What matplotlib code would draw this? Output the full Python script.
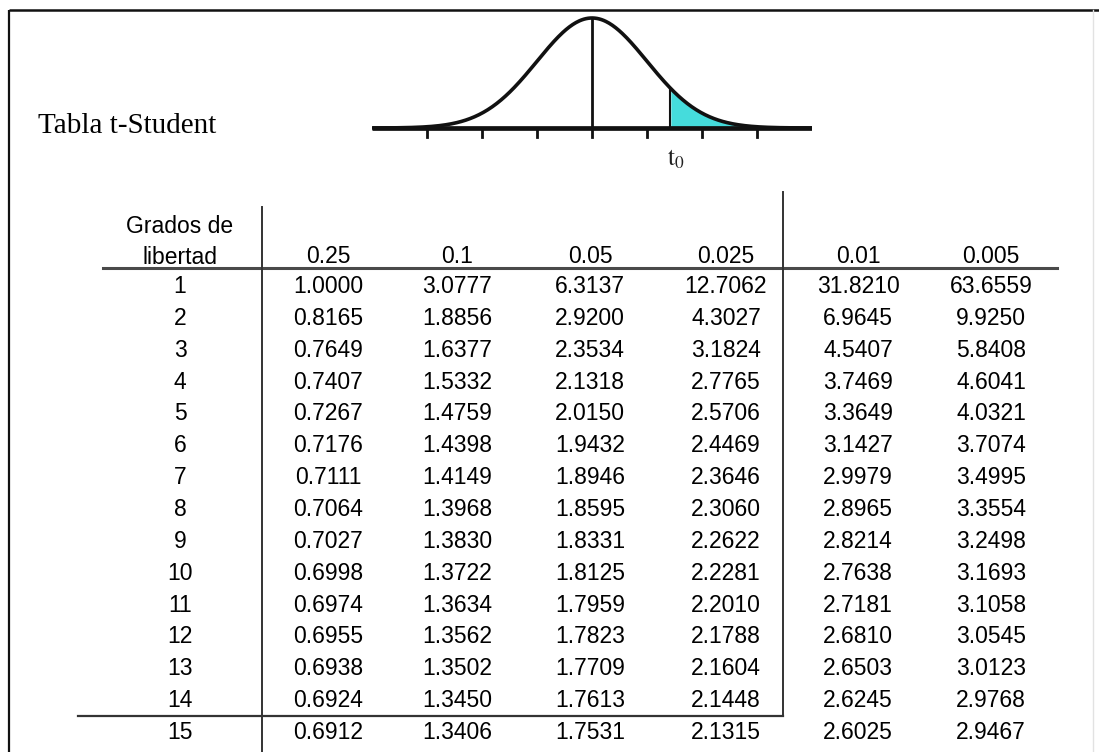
import numpy as np
import matplotlib
matplotlib.use("Agg")
from matplotlib import pyplot as plt

plt.rcParams["mathtext.fontset"] = "stix"

# tabla t-Student: grados de libertad y valores criticos por alfa
grados = list(range(1, 16))
alfas = ["0.25", "0.1", "0.05", "0.025", "0.01", "0.005"]
t_025 = [1.0000, 0.8165, 0.7649, 0.7407, 0.7267, 0.7176, 0.7111, 0.7064,
         0.7027, 0.6998, 0.6974, 0.6955, 0.6938, 0.6924, 0.6912]
t_010 = [3.0777, 1.8856, 1.6377, 1.5332, 1.4759, 1.4398, 1.4149, 1.3968,
         1.3830, 1.3722, 1.3634, 1.3562, 1.3502, 1.3450, 1.3406]
t_005 = [6.3137, 2.9200, 2.3534, 2.1318, 2.0150, 1.9432, 1.8946, 1.8595,
         1.8331, 1.8125, 1.7959, 1.7823, 1.7709, 1.7613, 1.7531]
t_0025 = [12.7062, 4.3027, 3.1824, 2.7765, 2.5706, 2.4469, 2.3646, 2.3060,
          2.2622, 2.2281, 2.2010, 2.1788, 2.1604, 2.1448, 2.1315]
t_001 = [31.8210, 6.9645, 4.5407, 3.7469, 3.3649, 3.1427, 2.9979, 2.8965,
         2.8214, 2.7638, 2.7181, 2.6810, 2.6503, 2.6245, 2.6025]
t_0005 = [63.6559, 9.9250, 5.8408, 4.6041, 4.0321, 3.7074, 3.4995, 3.3554,
          3.2498, 3.1693, 3.1058, 3.0545, 3.0123, 2.9768, 2.9467]
columnas = [t_025, t_010, t_005, t_0025, t_001, t_0005]

# dibujo de la curva
curva_ticks = [-3, -2, -1, 0, 1, 2, 3]
t0 = 1.42

W, H = 1099, 752
fig = plt.figure(figsize=(W / 100, H / 100), dpi=100)
fig.patch.set_facecolor("white")

ax = fig.add_axes([0, 0, 1, 1])
ax.set_xlim(0, W)
ax.set_ylim(H, 0)
ax.axis("off")

# marco
ax.plot([9, W], [10, 10], color="#111", lw=1.8, solid_capstyle="butt")
ax.plot([9, 9], [10, H], color="#111", lw=1.6, solid_capstyle="butt")
ax.plot([1093, 1093], [10, H], color="#e2e2e2", lw=1.0)

ax.text(38, 133, "Tabla t-Student", fontsize=21, family="Liberation Serif",
        color="#000", ha="left", va="baseline")

txt = dict(family="Liberation Sans", fontsize=16.5, color="#000",
           ha="center", va="baseline")
col_x = [328, 457, 590, 726, 858, 991]
gl_x = 180

ax.text(gl_x, 233, "Grados de", **txt)
ax.text(gl_x, 264, "libertad", **txt)
for x, a in zip(col_x, alfas):
    ax.text(x, 263, a, **txt)

ax.plot([103, 1057], [268, 268], color="#4a4a4a", lw=2.2)
ax.plot([262, 262], [207, H], color="#333", lw=1.4)
ax.plot([783, 783], [192, 716], color="#333", lw=1.4)
ax.plot([78, 783], [716, 716], color="#333", lw=1.6)

y0, dy = 293, 31.86
for i, g in enumerate(grados):
    yb = y0 + i * dy
    ax.text(gl_x, yb, str(g), **txt)
    for x, col in zip(col_x, columnas):
        ax.text(x, yb, f"{col[i]:.4f}", **txt)

# curva normal
left, right = 372, 812
top, bottom = 10, 145
cax = fig.add_axes([left / W, 1 - bottom / H, (right - left) / W, (bottom - top) / H])
cax.set_xlim(-4.0, 4.0)
cax.set_ylim(-17 / 110, 118 / 110)
cax.axis("off")

z = np.linspace(-4.0, 4.0, 400)
f = np.exp(-z ** 2 / 2)
mask = z >= t0
cax.fill_between(z[mask], 0, f[mask], color="#45dcdc", lw=0)
cax.plot([t0, t0], [0, np.exp(-t0 ** 2 / 2)], color="#111", lw=1.5)
cax.plot(z, f, color="#111", lw=2.6, solid_capstyle="round")
cax.plot([0, 0], [0, 1], color="#111", lw=2.0)
cax.plot([-4.0, 4.0], [0, 0], color="#111", lw=3.4, solid_capstyle="butt")
for t in curva_ticks:
    cax.plot([t, t], [0, -0.085], color="#111", lw=2.0)

ax.text(667, 166, r"$\mathrm{t}_0$", fontsize=18, color="#222",
        ha="left", va="baseline")

fig.savefig("out.png", dpi=100, facecolor="white")
